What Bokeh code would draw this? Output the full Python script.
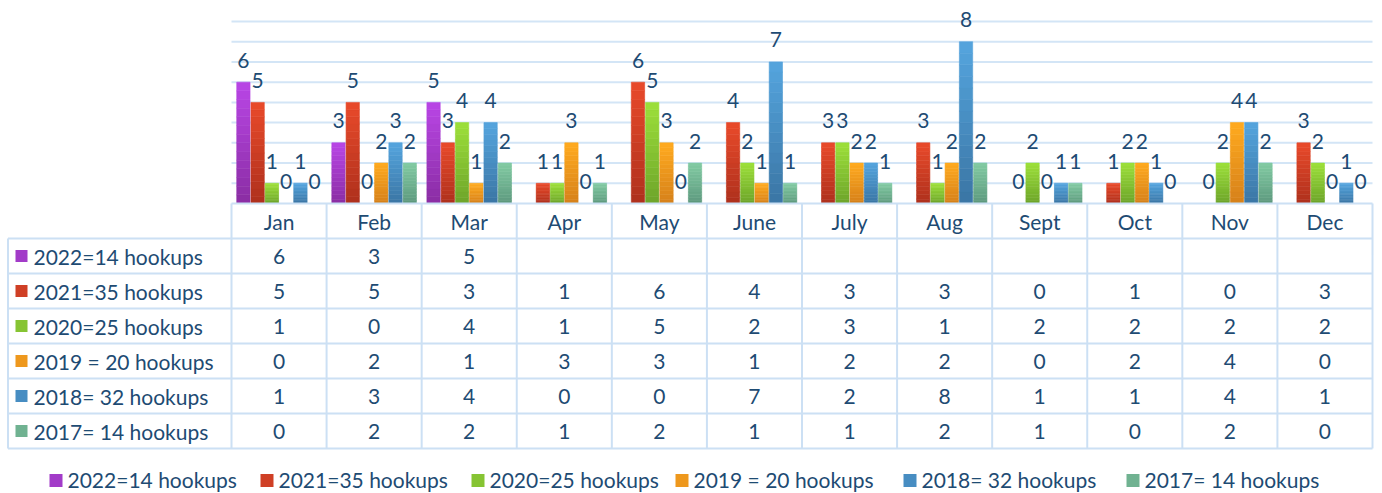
from bokeh.plotting import figure
from bokeh.models import Range1d
from bokeh.core.properties import value
from bokeh.embed import file_html
from bokeh.resources import INLINE

# ---------------- data ----------------
months = ["Jan", "Feb", "Mar", "Apr", "May", "June", "July", "Aug", "Sept", "Oct", "Nov", "Dec"]
series_names = ["2022=14 hookups", "2021=35 hookups", "2020=25 hookups",
                "2019 = 20 hookups", "2018= 32 hookups", "2017= 14 hookups"]
y2022 = [6, 3, 5, None, None, None, None, None, None, None, None, None]
y2021 = [5, 5, 3, 1, 6, 4, 3, 3, 0, 1, 0, 3]
y2020 = [1, 0, 4, 1, 5, 2, 3, 1, 2, 2, 2, 2]
y2019 = [0, 2, 1, 3, 3, 1, 2, 2, 0, 2, 4, 0]
y2018 = [1, 3, 4, 0, 0, 7, 2, 8, 1, 1, 4, 1]
y2017 = [0, 2, 2, 1, 2, 1, 1, 2, 1, 0, 2, 0]
series_values = [y2022, y2021, y2020, y2019, y2018, y2017]
grid_ticks = [1, 2, 3, 4, 5, 6, 7, 8, 9]

# ---------------- style ----------------
top_colors = ["#B946E6", "#E94A2A", "#9DE03A", "#FFAB1F", "#55A5DE", "#82CBA3"]
bot_colors = ["#8A2DA3", "#AE301D", "#6DA42A", "#D6801A", "#3A75A4", "#5E997E"]
mid_colors = ["#A23BC8", "#CF3F25", "#86C433", "#EE981D", "#478DC2", "#70B291"]
TXT = "#1E4B73"
GRID = "#D3E5F6"
LINE = "#CCE0F4"
FONT = value("Lato")
FS = "21px"

W, H = 1382, 493
COL0 = 231.0                    # page x of first month column
COLW = (1372 - 231) / 12.0      # month column width (px)
BASE = 203.0                    # page y of value 0
U = (203 - 21) / 9.0            # px per bar unit


def px2x(px):
    return (px - COL0) / COLW


def hexrgb(h):
    h = h.lstrip("#")
    return tuple(int(h[i:i + 2], 16) for i in (0, 2, 4))


def mix(c1, c2, t):
    a, b = hexrgb(c1), hexrgb(c2)
    return "#%02x%02x%02x" % tuple(int(round(a[i] + (b[i] - a[i]) * t)) for i in range(3))


p = figure(width=W, height=H, x_range=Range1d(px2x(0), px2x(W)),
           y_range=Range1d(H, 0), output_backend="svg", toolbar_location=None,
           min_border=0)
p.extra_y_ranges = {"bars": Range1d(-(H - BASE) / U, BASE / U)}
p.axis.visible = False
p.grid.visible = False
p.outline_line_color = None
p.background_fill_color = "white"
p.border_fill_color = "white"

# ---------------- chart gridlines ----------------
p.segment(x0=[0] * len(grid_ticks), x1=[12] * len(grid_ticks), y0=grid_ticks, y1=grid_ticks,
          y_range_name="bars", line_color=GRID, line_width=2)

# ---------------- bars (vertical gradient) ----------------
offsets = [-0.375, -0.225, -0.075, 0.075, 0.225, 0.375]
BW = 0.14
K = 14
for s, vals in enumerate(series_values):
    xs = [m + 0.5 + offsets[s] for m in range(12)]
    L, R, B, T, C = [], [], [], [], []
    for x, v in zip(xs, vals):
        if v is None or v <= 0:
            continue
        for k in range(K):
            L.append(x - BW / 2)
            R.append(x + BW / 2)
            B.append(v * k / K)
            T.append(v * (k + 1) / K)
            C.append(mix(bot_colors[s], top_colors[s], (k + 0.5) / K))
    p.quad(left=L, right=R, bottom=B, top=T, fill_color=C, line_color=C, line_width=0.6,
           y_range_name="bars")
    lx = [x for x, v in zip(xs, vals) if v is not None]
    ly = [v for v in vals if v is not None]
    p.text(x=lx, y=ly, text=[str(v) for v in ly], text_align="center",
           text_baseline="middle", y_offset=-22, text_color=TXT,
           text_font=FONT, text_font_size=FS, y_range_name="bars")

# ---------------- data table ----------------
TOP0 = 203
ROWH = 35
xl = px2x(7.5)
hx0 = [0] + [xl] * 7
hx1 = [12] * 8
hy = [TOP0 + ROWH * r for r in range(8)]
p.segment(x0=hx0, y0=hy, x1=hx1, y1=hy, line_color=LINE, line_width=2)
vx = list(range(13)) + [xl]
vy0 = [TOP0] * 13 + [TOP0 + ROWH]
vy1 = [TOP0 + ROWH * 7] * 14
p.segment(x0=vx, y0=vy0, x1=vx, y1=vy1, line_color=LINE, line_width=2)

p.text(x=[m + 0.5 for m in range(12)], y=[TOP0 + ROWH / 2] * 12, text=months,
       text_align="center", text_baseline="middle", text_color=TXT,
       text_font=FONT, text_font_size=FS)
for s, vals in enumerate(series_values):
    yc = TOP0 + ROWH * (s + 1) + ROWH / 2
    xs = [m + 0.5 for m in range(12) if vals[m] is not None]
    tv = [str(v) for v in vals if v is not None]
    p.text(x=xs, y=[yc] * len(xs), text=tv, text_align="center", text_baseline="middle",
           text_color=TXT, text_font=FONT, text_font_size=FS)
    p.rect(x=[px2x(21)], y=[yc], width=12, height=12, width_units="screen",
           height_units="screen", fill_color=mid_colors[s], line_color=None)
    p.text(x=[px2x(33)], y=[yc], text=[series_names[s]], text_align="left",
           text_baseline="middle", text_color=TXT, text_font=FONT, text_font_size=FS)

# ---------------- legend ----------------
leg_left = [49, 260, 471, 675, 903, 1126]
LEG_Y = 479
for s in range(6):
    p.rect(x=[px2x(leg_left[s] + 6.5)], y=[LEG_Y + 1], width=13, height=13, width_units="screen",
           height_units="screen", fill_color=mid_colors[s], line_color=None)
    p.text(x=[px2x(leg_left[s] + 18)], y=[LEG_Y], text=[series_names[s]], text_align="left",
           text_baseline="middle", text_color=TXT, text_font=FONT, text_font_size=FS)

open("out.html", "w").write(file_html(p, INLINE))
